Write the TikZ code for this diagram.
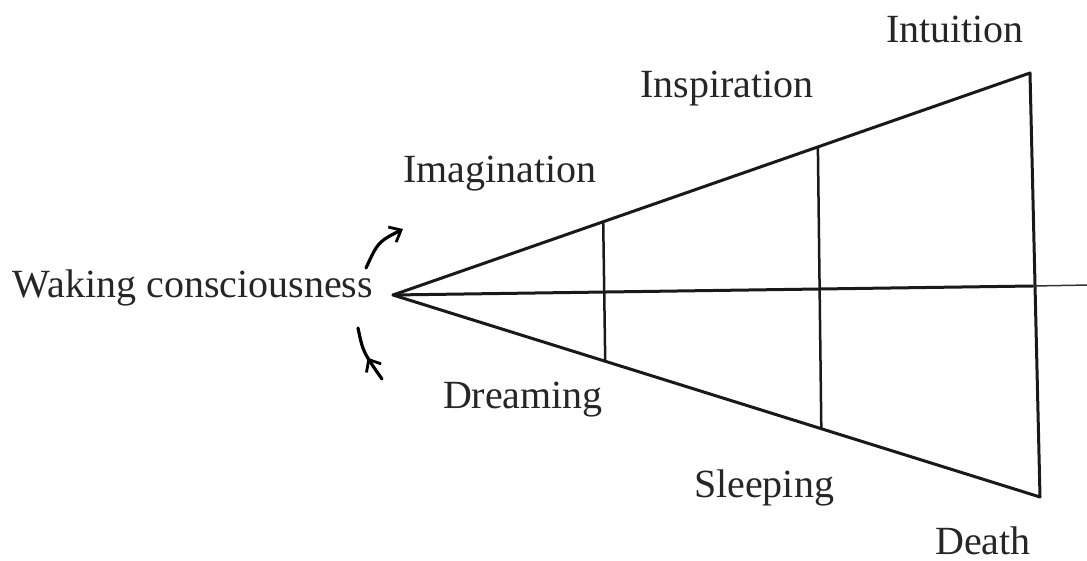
\documentclass[tikz,border=0pt]{standalone}
\usepackage{fontspec}
\setmainfont{Liberation Serif}
\usetikzlibrary{arrows.meta, calc, decorations.markings}
\tikzset{
  word/.style={font=\fontsize{40}{44}\selectfont, text=black!85, inner sep=0pt, anchor=base},
  edge/.style={draw=black!90, line width=3pt, line cap=round, line join=round},
  rung/.style={draw=black!90, line width=2.5pt},
  tail/.style={draw=black!80, line width=1.5pt},
  turn/.style={draw=black, line width=3.2pt, line cap=round},
  barb/.style={-{Straight Barb[length=10pt, width=17pt, line width=2.8pt]}},
}

\begin{document}
\begin{tikzpicture}[x=1pt, y=-1pt]
  \useasboundingbox (0,0) rectangle (1087,561);

  % the cone
  \coordinate (apex) at (393,295);
  \coordinate (top)  at (1030,73);
  \coordinate (bot)  at (1040,497);
  \coordinate (mid)  at (1033,286);
  \coordinate (tip)  at (1090,285);
  \draw[edge] (bot) -- (apex) -- (top) -- (bot);
  \draw[edge] (apex) -- (mid);
  \draw[tail] (mid) -- (tip);

  % the two inner rungs
  \draw[rung] ($(apex)!0.33!(top)$) -- ($(apex)!0.328!(bot)$);
  \draw[rung] ($(apex)!0.667!(top)$) -- ($(apex)!0.662!(bot)$);

  % labels
  \node[word] (wake) at (193,298) {Waking consciousness};
  \node[word] (imag) at (500,183) {Imagination};
  \node[word] (insp) at (727,98)  {Inspiration};
  \node[word] (intu) at (955,43)  {Intuition};
  \node[word] (drea) at (523,408) {Dreaming};
  \node[word] (slee) at (764,497) {Sleeping};
  \node[word] (deat) at (983,554) {Death};

  % the two turning arrows
  \coordinate (up1)  at (366,268);
  \coordinate (up2)  at (403,229);
  \coordinate (low1) at (358,328);
  \coordinate (low2) at (382,379);
  \draw[turn, barb] (up1) .. controls (378,242) .. (up2);
  \draw[turn, postaction={decorate}, decoration={markings,
        mark=at position 0.45 with {\arrow{Straight Barb[length=10pt, width=17pt, line width=2.8pt]}}}]
    (low2) .. controls (363,352) .. (low1);
\end{tikzpicture}
\end{document}
